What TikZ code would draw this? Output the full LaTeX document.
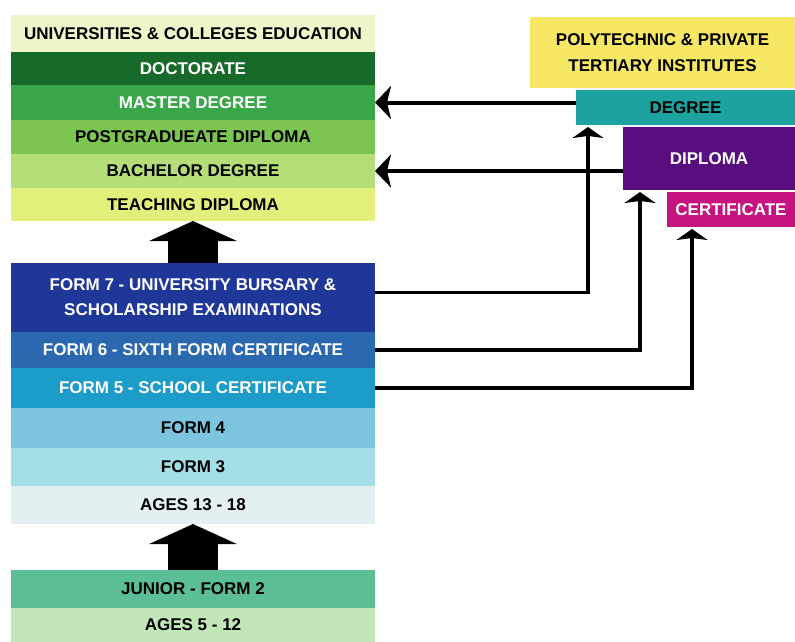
\documentclass[tikz,border=0pt]{standalone}
\usepackage{fontspec}
\setmainfont{Liberation Sans}
\usetikzlibrary{arrows.meta,positioning}

\definecolor{uniC}{HTML}{EEF6C9}
\definecolor{docC}{HTML}{186A2A}
\definecolor{mastC}{HTML}{39A64A}
\definecolor{pgC}{HTML}{7DC551}
\definecolor{bachC}{HTML}{B5DE78}
\definecolor{teachC}{HTML}{E3EF7B}
\definecolor{fsevC}{HTML}{20379A}
\definecolor{fsixC}{HTML}{2B68AF}
\definecolor{ffivC}{HTML}{1C9CC9}
\definecolor{ffouC}{HTML}{7DC5DE}
\definecolor{fthrC}{HTML}{A4DEE7}
\definecolor{agesC}{HTML}{E3F0F2}
\definecolor{junC}{HTML}{5BBE95}
\definecolor{youngC}{HTML}{C1E6B8}
\definecolor{polyC}{HTML}{F6E865}
\definecolor{degC}{HTML}{1CA39F}
\definecolor{dipC}{HTML}{590E80}
\definecolor{certC}{HTML}{C5137F}

\begin{document}
\begin{tikzpicture}[x=1pt,y=-1pt,node distance=0pt,
    font=\fontsize{17pt}{19pt}\selectfont\bfseries,
    tier/.style={inner sep=0pt,outer sep=0pt,minimum width=364pt,anchor=north west,align=center},
    side/.style={inner sep=0pt,outer sep=0pt,anchor=north west,align=center},
    ptr/.style={line width=4pt,-{Stealth[length=16pt,width=33pt,inset=4pt]}},
    feed/.style={line width=3.3pt,-{Stealth[length=11pt,width=31pt,inset=2pt]},shorten >=2pt},
    bigup/.style={line width=50pt,-{Triangle[length=20pt,width=87pt]}}]

    \useasboundingbox[fill=white] (0,0) rectangle (795,642);

    % university stack
    \node[tier,fill=uniC,minimum height=37pt] (uni) at (11,15) {UNIVERSITIES \& COLLEGES EDUCATION};
    \node[tier,fill=docC,text=white,minimum height=33pt,below=of uni] (doc) {DOCTORATE};
    \node[tier,fill=mastC,text=white,minimum height=35pt,below=of doc] (master) {MASTER DEGREE};
    \node[tier,fill=pgC,minimum height=34pt,below=of master] (postgrad) {POSTGRADUEATE DIPLOMA};
    \node[tier,fill=bachC,minimum height=34pt,below=of postgrad] (bachelor) {BACHELOR DEGREE};
    \node[tier,fill=teachC,minimum height=33pt,below=of bachelor] (teach) {TEACHING DIPLOMA};

    % secondary stack
    \node[tier,fill=fsevC,text=white,minimum height=69pt,below=42pt of teach] (form7)
        {FORM 7 - UNIVERSITY BURSARY \&\\[6pt]SCHOLARSHIP EXAMINATIONS};
    \node[tier,fill=fsixC,text=white,minimum height=36pt,below=of form7] (form6) {FORM 6 - SIXTH FORM CERTIFICATE};
    \node[tier,fill=ffivC,text=white,minimum height=40pt,below=of form6] (form5) {FORM 5 - SCHOOL CERTIFICATE};
    \node[tier,fill=ffouC,minimum height=40pt,below=of form5] (form4) {FORM 4};
    \node[tier,fill=fthrC,minimum height=38pt,below=of form4] (form3) {FORM 3};
    \node[tier,fill=agesC,minimum height=38pt,below=of form3] (teens) {AGES 13 - 18};

    % primary stack
    \node[tier,fill=junC,minimum height=38pt,below=46pt of teens] (junior) {JUNIOR - FORM 2};
    \node[tier,fill=youngC,minimum height=34pt,below=of junior] (young) {AGES 5 - 12};

    % tertiary institutes
    \node[side,fill=polyC,minimum width=265pt,minimum height=71pt,
          font=\fontsize{17pt}{26pt}\selectfont\bfseries] (poly) at (530,17)
        {POLYTECHNIC \& PRIVATE\\TERTIARY INSTITUTES};
    \node[side,fill=degC,minimum width=219pt,minimum height=35pt] (degree) at (576,90) {DEGREE};
    \node[side,fill=dipC,text=white,minimum width=172pt,minimum height=63pt] (diploma) at (623,127) {DIPLOMA};
    \node[side,fill=certC,text=white,minimum width=128pt,minimum height=35pt] (cert) at (667,192) {CERTIFICATE};

    \draw[bigup] (form7.north) -- (teach.south);
    \draw[bigup] (junior.north) -- (teens.south);

    \draw[ptr] (degree.west |- master.east) -- (master.east);
    \draw[ptr] (diploma.west |- bachelor.east) -- (bachelor.east);

    \draw[feed] ([yshift=5pt]form7.east) -| ([xshift=12pt]degree.south west);
    \draw[feed] (form6.east) -| ([xshift=17pt]diploma.south west);
    \draw[feed] (form5.east) -| ([xshift=25pt]cert.south west);
\end{tikzpicture}
\end{document}
